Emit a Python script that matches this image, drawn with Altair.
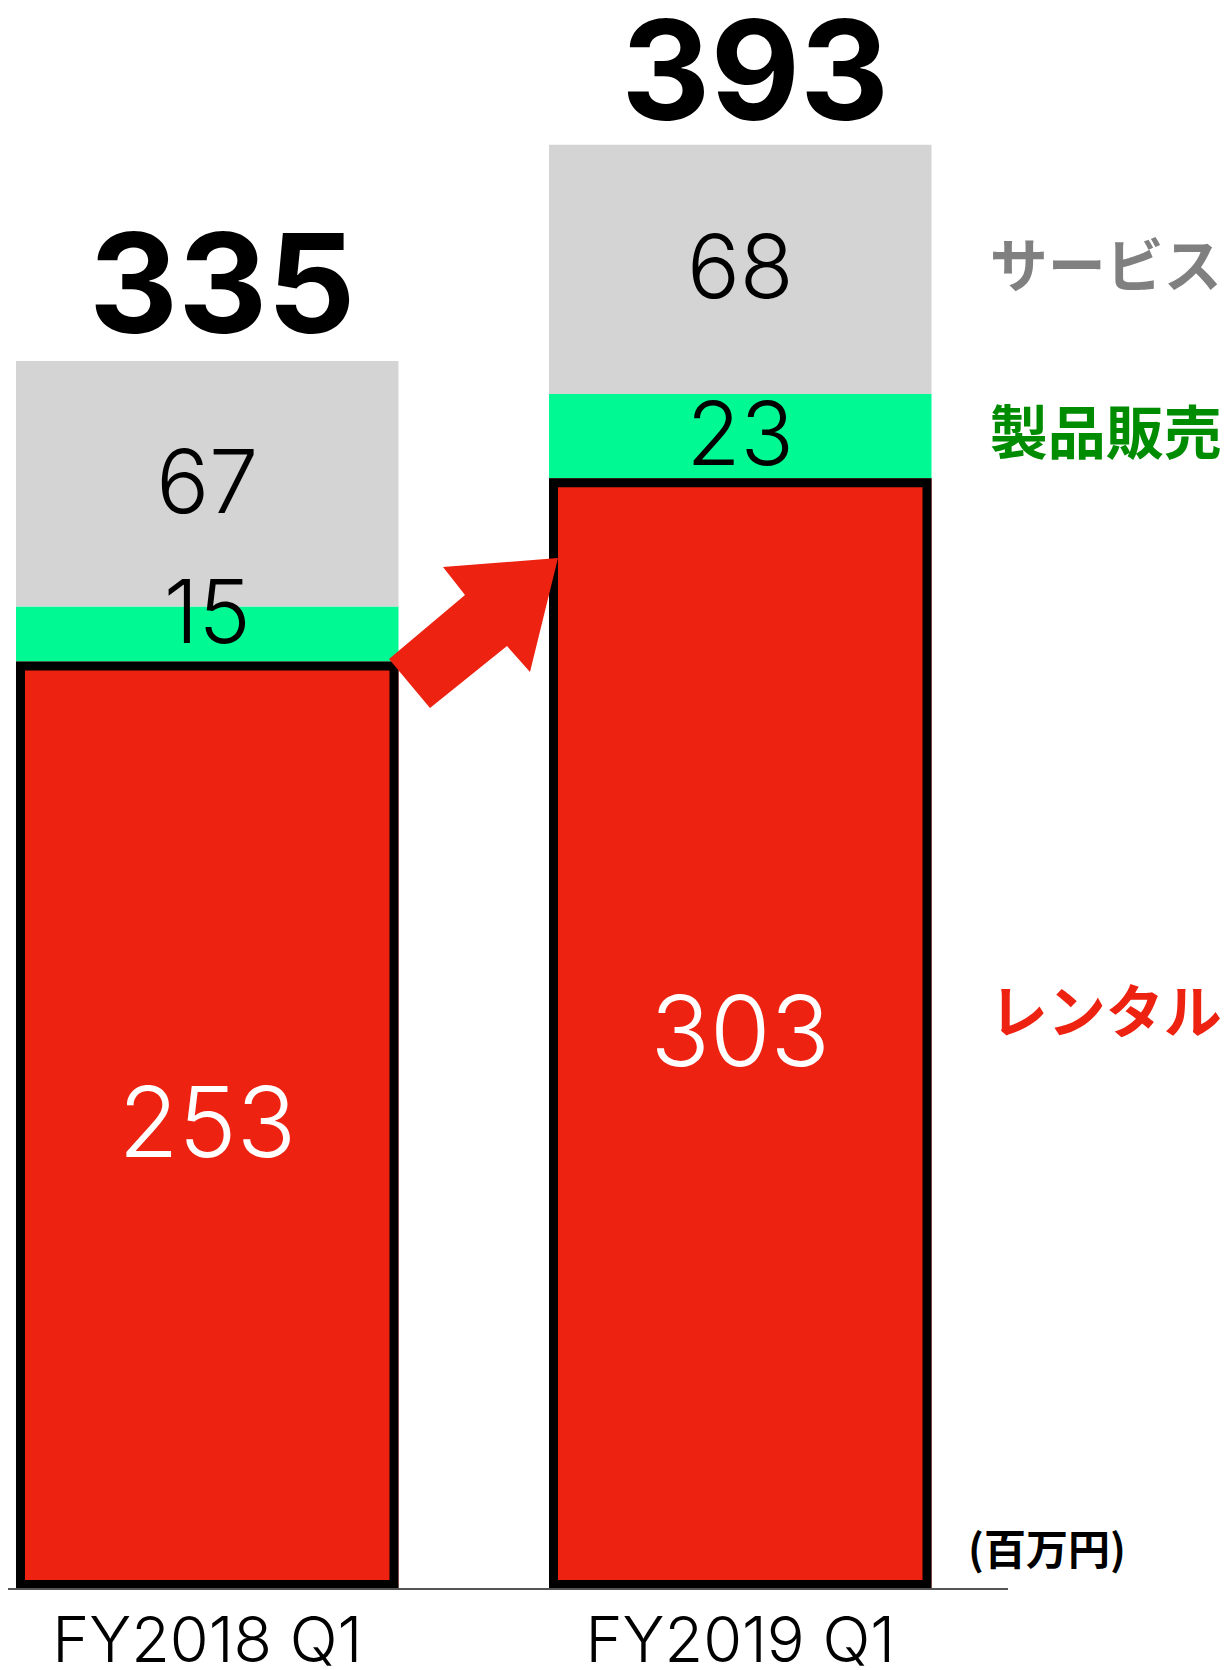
import json
import altair as alt
import pandas as pd

# ---------------- data ----------------
categories = ["FY2018 Q1", "FY2019 Q1"]
segments = ["レンタル", "製品販売", "サービス"]
rental = [253, 303]
product = [15, 23]
service = [67, 68]
totals = [335, 393]
unit_label = "(百万円)"

seg_colors = ["#EE2211", "#00F993", "#D4D4D4"]
label_colors = ["#EE2211", "#008C00", "#808080"]

rows = []
for i, c in enumerate(categories):
    for s, vals in zip(segments, [rental, product, service]):
        rows.append({"category": c, "segment": s, "value": vals[i]})
df = pd.DataFrame(rows)
tot_df = pd.DataFrame({"category": categories, "total": totals})
note_df = pd.DataFrame({"note": [unit_label]})

SEG = json.dumps(segments, ensure_ascii=False)
LC = json.dumps(label_colors)

NUM_FONT = "Inter, Roboto, 'Noto Sans', sans-serif"
JP_FONT = "'Noto Sans CJK JP', 'Noto Sans', sans-serif"

x_scale = alt.Scale(domain=categories, range=[8, 923.5], paddingInner=0.2824, paddingOuter=0)
y_scale = alt.Scale(domain=[0, 431.3], nice=False, zero=True)

x_enc = alt.X(
    "category:N", scale=x_scale, title=None,
    axis=alt.Axis(labelFont=NUM_FONT, labelFontSize=63, labelFontWeight=300,
                  labelColor="#000000", labelPadding=22, labelAngle=0, labelLimit=0,
                  domain=False, ticks=False, grid=False),
)

base = alt.Chart(df).transform_calculate(idx=f"indexof({SEG}, datum.segment)", zero="0")

bars = base.mark_bar(strokeWidth=0).encode(
    x=x_enc,
    y=alt.Y("value:Q", scale=y_scale, axis=None, stack="zero"),
    color=alt.Color("segment:N", scale=alt.Scale(domain=segments, range=seg_colors), legend=None),
    order=alt.Order("idx:Q", sort="ascending"),
)

rental_box = base.transform_filter(alt.datum.segment == segments[0]).mark_bar(
    fill=seg_colors[0], stroke="#000000", strokeWidth=9,
    yOffset=4.5, y2Offset=-4.5, width=alt.RelativeBandSize(0.9765),
).encode(
    x=alt.X("category:N", scale=x_scale),
    y=alt.Y("value:Q", scale=y_scale, stack=None),
    y2=alt.Y2("zero:Q"),
)

stacked = base.transform_stack(
    stack="value", groupby=["category"], as_=["v0", "v1"],
    sort=[alt.SortField("idx", order="ascending")],
).transform_calculate(mid="(datum.v0 + datum.v1) / 2", lc=f"{LC}[datum.idx]")

is_rental = alt.datum.segment == segments[0]
special = (alt.datum.segment == segments[1]) & (alt.datum.category == categories[0])

def seg_text(layer, dy):
    return layer.mark_text(font=NUM_FONT, fontWeight=300, baseline="middle", align="center", dy=dy).encode(
        x=alt.X("category:N", scale=x_scale),
        y=alt.Y("mid:Q", scale=y_scale),
        text=alt.Text("value:Q"),
        color=alt.condition(is_rental, alt.value("#FFFFFF"), alt.value("#000000")),
        size=alt.condition(is_rental, alt.value(98), alt.value(88)),
    )

seg_labels = seg_text(stacked.transform_filter(~special), 3)
seg_label_15 = seg_text(stacked.transform_filter(special), -17)

total_labels = alt.Chart(tot_df).mark_text(
    font=NUM_FONT, fontWeight=700, fontSize=138, baseline="alphabetic", align="center", dx=15, dy=-28,
    color="#000000",
).encode(
    x=alt.X("category:N", scale=x_scale),
    y=alt.Y("total:Q", scale=y_scale),
    text=alt.Text("total:Q"),
)

last = stacked.transform_filter(alt.datum.category == categories[1])

def side_text(layer, dy):
    return layer.mark_text(font=JP_FONT, fontWeight="bold", fontSize=58, baseline="middle", align="left",
                           dx=249.5, dy=dy).encode(
        x=alt.X("category:N", scale=x_scale),
        y=alt.Y("mid:Q", scale=y_scale),
        text=alt.Text("segment:N"),
        color=alt.Color("lc:N", scale=None),
    )

side_labels = side_text(last.transform_filter(~is_rental), 1)
side_rental = side_text(last.transform_filter(is_rental), -18)

baseline_rule = alt.Chart(tot_df).mark_rule(color="#555555", strokeWidth=2).encode(
    y=alt.Y(datum=0, scale=y_scale),
    x=alt.value(0),
    x2=alt.value(1000),
)

note = alt.Chart(note_df).mark_text(
    font=JP_FONT, fontWeight="bold", fontSize=42, baseline="middle", align="left", color="#000000",
).encode(
    text="note:N",
    x=alt.value(960),
    y=alt.value(1544),
)

arrow_path = "M -77 34 L -1 -30 L -23 -58 L 92 -67 L 64 47 L 41 21 L -36 83 Z"
arrow = alt.Chart(note_df).mark_point(
    shape=arrow_path, size=4, filled=True, color="#EE2211", opacity=1, strokeWidth=0,
).encode(
    x=alt.value(458),
    y=alt.value(617),
)

chart = alt.layer(
    bars, rental_box, seg_labels, seg_label_15, total_labels,
    side_labels, side_rental, baseline_rule, note, arrow,
).properties(
    width=1000,
    height=1581,
    padding={"left": 0, "top": 0, "right": 215, "bottom": 81},
    autosize=alt.AutoSizeParams(type="none"),
    background="#FFFFFF",
).configure_view(stroke=None)

chart.save("out.html", embed_options={"renderer": "svg", "actions": False})
